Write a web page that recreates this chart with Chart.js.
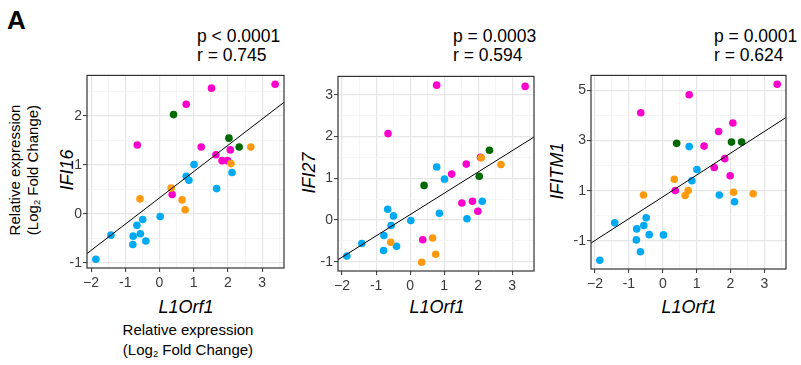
<!DOCTYPE html>
<html><head><meta charset="utf-8">
<script src="https://cdn.jsdelivr.net/npm/chart.js@4/dist/chart.umd.min.js"></script>
<style>
body{margin:0;width:801px;height:365px;background:#fff;position:relative;overflow:hidden;font-family:"Liberation Sans",Arial,Helvetica,sans-serif;color:#000;}
.abs{position:absolute;white-space:nowrap;}
.rot{position:absolute;white-space:nowrap;transform:translate(-50%,-50%) rotate(-90deg);text-align:center;}
.ctr{position:absolute;white-space:nowrap;transform:translate(-50%,-50%);text-align:center;}
.gene{font-style:italic;font-size:18px;}
.stat{font-size:17.5px;line-height:19px;}
sub{font-size:0.62em;line-height:0;vertical-align:-0.25em;}
canvas{position:absolute;}
</style></head><body>
<div class="abs" style="left:7px;top:5px;font-size:26px;font-weight:bold;">A</div>

<div class="abs stat" style="left:197px;top:27px;">p &lt; 0.0001<br>r = 0.745</div>
<div class="abs stat" style="left:453px;top:27px;">p = 0.0003<br>r = 0.594</div>
<div class="abs stat" style="left:714px;top:27px;">p = 0.0001<br>r = 0.624</div>

<div class="rot" style="left:24px;top:170px;font-size:15px;line-height:18px;">Relative expression<br>(Log<sub>2</sub> Fold Change)</div>
<div class="rot gene" style="left:67px;top:170px;">IFI16</div>
<div class="rot gene" style="left:309px;top:173px;">IFI27</div>
<div class="rot gene" style="left:557px;top:171px;">IFITM1</div>

<div class="ctr gene" style="left:186px;top:307px;">L1Orf1</div>
<div class="ctr gene" style="left:437px;top:307px;">L1Orf1</div>
<div class="ctr gene" style="left:689px;top:307px;">L1Orf1</div>
<div class="ctr" style="left:188px;top:340px;font-size:15px;line-height:20px;">Relative expression<br>(Log<sub>2</sub> Fold Change)</div>

<canvas id="c1"></canvas>
<canvas id="c2"></canvas>
<canvas id="c3"></canvas>

<script>
// ---- data ----
// L1Orf1 values (x), per colour group
const blueL1    = [1.01, 2.12, 0.78, 0.86, 1.67, 0.02, -0.49, -0.66, -1.42, -0.77, -0.56, -0.40, -0.78, -1.86];
const magentaL1 = [3.38, 1.52, 0.78, -0.65, 1.22, 1.65, 2.07, 1.83, 1.99, 0.37];
const greenL1   = [0.41, 2.03, 2.33];
const orangeL1  = [2.67, 2.09, 0.34, -0.57, 0.66, 0.75];

// IFI16
const blueIFI16    = [1.01, 0.85, 0.77, 0.69, 0.52, -0.05, -0.11, -0.23, -0.43, -0.45, -0.40, -0.55, -0.62, -0.92];
const magentaIFI16 = [2.65, 2.57, 2.24, 1.41, 1.37, 1.21, 1.31, 1.09, 1.09, 0.40];
const greenIFI16   = [2.03, 1.55, 1.37];
const orangeIFI16  = [1.37, 1.03, 0.53, 0.31, 0.29, 0.09];

// IFI27
const blueIFI27    = [0.98, 0.45, 1.27, 0.16, 0.03, -0.01, 0.10, 0.26, -0.56, -0.37, -0.13, -0.63, -0.73, -0.86];
const magentaIFI27 = [3.20, 0.41, 3.23, 2.07, 1.10, 1.34, 1.50, 0.45, 0.21, -0.47];
const greenIFI27   = [0.83, 1.05, 1.67];
const orangeIFI27  = [1.33, 1.49, -1.01, -0.53, -0.43, -0.82];

// IFITM1
const blueIFITM1    = [1.85, 0.56, 2.76, 1.40, 0.83, -0.76, -0.08, -1.43, -0.28, -0.52, -0.39, -0.75, -0.96, -1.77];
const magentaIFITM1 = [5.25, 1.93, 4.83, 4.11, 2.78, 3.36, 3.70, 2.28, 1.60, 1.01];
const greenIFITM1   = [2.89, 2.94, 2.94];
const orangeIFITM1  = [0.88, 0.94, 1.46, 0.83, 0.81, 1.01];

// fitted regression lines (IFI16, IFI27, IFITM1)
const fitIntercept = [0.331, 0.131, 0.757];
const fitSlope     = [0.536, 0.510, 0.869];

// tick labels
const xTicks = [-2, -1, 0, 1, 2, 3];
const xTickLabels = ['\u22122', '-1', '0', '1', '2', '3'];
const ifi16Ticks = [-1, 0, 1, 2];
const ifi27Ticks = [-1, 0, 1, 2, 3];
const ifitm1Ticks = [-1, 1, 3, 5];

// axis limits
const xRange = [-2.12, 3.64];
const ifi16Range = [-1.10, 2.83];
const ifi27Range = [-1.22, 3.44];
const ifitm1Range = [-2.12, 5.60];

// ---- styling ----
const COLORS = {blue:'#00A9F4', magenta:'#FF00CC', green:'#006A00', orange:'#FF9A10'};
const FONT = '"Liberation Sans", Arial, Helvetica, sans-serif';

function pts(xs, ys){ return xs.map((x,i)=>({x:x, y:ys[i]})); }

function lineAcross(a, b){
  return [{x:xRange[0], y:a+b*xRange[0]}, {x:xRange[1], y:a+b*xRange[1]}];
}

function tickSet(majors, step){
  const out = [];
  const first = majors[0]-step/2, last = majors[majors.length-1]+step/2;
  for(let v=first; v<=last+1e-9; v+=step/2) out.push(Math.round(v*1000)/1000);
  return out;
}

const borderPlugin = {
  id:'frame',
  afterDraw(chart){
    const a = chart.chartArea, ctx = chart.ctx;
    ctx.save();
    ctx.strokeStyle = '#333'; ctx.lineWidth = 1.2;
    ctx.strokeRect(a.left, a.top, a.right-a.left, a.bottom-a.top);
    ctx.restore();
  }
};

function makeAxis(range, majors, labels, step, isX, fixedSize){
  const isMajor = v => majors.some(m => Math.abs(m-v)<1e-6);
  return {
    type:'linear',
    position: isX ? 'bottom' : 'left',
    min: range[0], max: range[1],
    afterBuildTicks(axis){
      axis.ticks = tickSet(majors, step).filter(v => v>range[0] && v<range[1]).map(v=>({value:v}));
    },
    afterFit(axis){ if(isX) axis.height = fixedSize; else axis.width = fixedSize; },
    grid:{
      drawOnChartArea:true, drawTicks:true, tickLength:4,
      color: c => (c.tick && isMajor(c.tick.value)) ? '#E6E6E6' : '#F2F2F2',
      lineWidth: c => (c.tick && isMajor(c.tick.value)) ? 1.2 : 0.8,
      tickColor: c => (c.tick && isMajor(c.tick.value)) ? '#333' : 'rgba(0,0,0,0)',
      tickWidth: 1
    },
    border:{display:false},
    ticks:{
      autoSkip:false, maxRotation:0, minRotation:0, padding: isX ? 3 : 1,
      color:'#3A3A3A', font:{family:FONT, size:14},
      callback: v => { const i = majors.findIndex(m => Math.abs(m-v)<1e-6); return i>=0 ? labels[i] : ''; }
    }
  };
}

function makeChart(id, box, yRange, yMajors, yStep, groupsY, fitIdx){
  const cv = document.getElementById(id);
  const yW = 32, xH = 26, padT = 8, padR = 8;
  cv.width = yW + box.w + padR; cv.height = padT + box.h + xH;
  cv.style.left = (box.l - yW) + 'px'; cv.style.top = (box.t - padT) + 'px';
  const mk = (xs, ys, col) => ({type:'scatter', data:pts(xs, ys), backgroundColor:col, borderWidth:0, pointRadius:3.8, pointHoverRadius:3.8});
  new Chart(cv, {
    data:{ datasets:[
      {type:'line', data:lineAcross(fitIntercept[fitIdx], fitSlope[fitIdx]), borderColor:'#000', borderWidth:1, pointRadius:0, fill:false, tension:0},
      mk(orangeL1, groupsY.orange, COLORS.orange),
      mk(greenL1, groupsY.green, COLORS.green),
      mk(magentaL1, groupsY.magenta, COLORS.magenta),
      mk(blueL1, groupsY.blue, COLORS.blue)
    ]},
    options:{
      responsive:false, animation:false, devicePixelRatio:1,
      layout:{padding:{top:padT, right:padR, left:0, bottom:0}},
      plugins:{legend:{display:false}, tooltip:{enabled:false}},
      scales:{
        x: makeAxis(xRange, xTicks, xTickLabels, 1, true, xH),
        y: makeAxis(yRange, yMajors, yMajors.map(String), yStep, false, yW)
      }
    },
    plugins:[borderPlugin]
  });
}

makeChart('c1', {l:87, t:74, w:197, h:194}, ifi16Range, ifi16Ticks, 1,
  {blue:blueIFI16, magenta:magentaIFI16, green:greenIFI16, orange:orangeIFI16}, 0);
makeChart('c2', {l:338, t:75, w:196, h:196}, ifi27Range, ifi27Ticks, 1,
  {blue:blueIFI27, magenta:magentaIFI27, green:greenIFI27, orange:orangeIFI27}, 1);
makeChart('c3', {l:591, t:74, w:195, h:195}, ifitm1Range, ifitm1Ticks, 2,
  {blue:blueIFITM1, magenta:magentaIFITM1, green:greenIFITM1, orange:orangeIFITM1}, 2);
</script>
</body></html>
